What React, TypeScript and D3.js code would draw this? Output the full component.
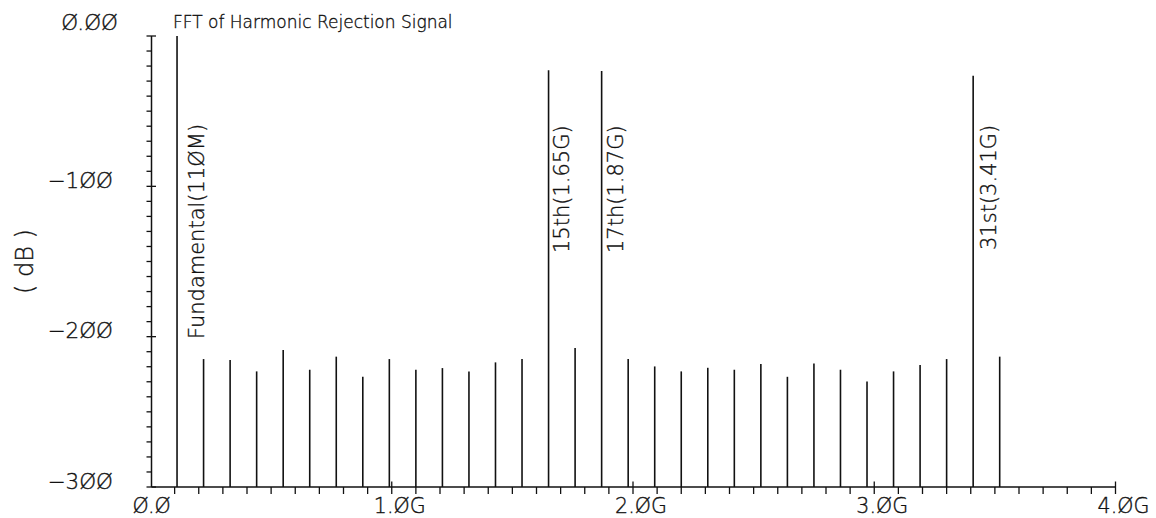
import React from "react";
import * as d3 from "d3";

// Harmonic frequencies (GHz) of the 110 MHz fundamental and their FFT magnitudes (dB)
const FREQS_GHZ = [
  0.11, 0.22, 0.33, 0.44, 0.55, 0.66, 0.77, 0.88, 0.99, 1.1, 1.21, 1.32, 1.43, 1.54, 1.65, 1.76,
  1.87, 1.98, 2.09, 2.2, 2.31, 2.42, 2.53, 2.64, 2.75, 2.86, 2.97, 3.08, 3.19, 3.3, 3.41, 3.52,
];
const MAG_DB = [
  0, -214.9, -215.6, -223.1, -208.9, -222, -213.3, -226.7, -214.9, -222, -220.9, -223.1, -217.1,
  -214.9, -22.7, -207.6, -23.3, -214.9, -219.8, -223.1, -220.7, -222, -218.2, -226.7, -217.8, -222,
  -229.8, -223.1, -218.9, -214.9, -26.4, -213.3,
];

// Annotated spectral lines
const ANNOTATION_TEXT = ["Fundamental(11ØM)", "15th(1.65G)", "17th(1.87G)", "31st(3.41G)"];
const ANNOTATION_FREQ = [0.11, 1.65, 1.87, 3.41];

// Axis ticks
const Y_MAJOR = [0, -100, -200, -300];
const Y_MAJOR_LABELS = ["Ø.ØØ", "−1ØØ", "−2ØØ", "−3ØØ"];
const X_MAJOR = [0, 1, 2, 3, 4];
const X_MAJOR_LABELS = ["Ø.Ø", "1.ØG", "2.ØG", "3.ØG", "4.ØG"];

const TITLE = "FFT of Harmonic Rejection Signal";
const Y_TITLE = "( dB )";

// Layout for the annotation text: horizontal offset from the line, and the y where text starts
const ANNOTATION_DX = [27, 20, 21, 23];
const ANNOTATION_START_Y = [339, 253, 253, 250];

const W = 1156;
const H = 518;
const INK = "#111";
const FONT = "'DejaVu Sans', sans-serif";
const TEXT_STROKE = 0.35;

export default function App() {
  const x = d3.scaleLinear().domain([0, 4]).range([150.5, 1115.5]);
  const y = d3.scaleLinear().domain([-300, 0]).range([487, 36]);
  const axisX = 151.5;
  const baseY = y(-300);

  const yMinor = d3.range(0, -301, -10).filter((v) => !Y_MAJOR.includes(v));
  const xMinor = d3.range(0, 40).map((i) => i / 10).filter((v) => Math.abs(v - Math.round(v)) > 1e-6);

  const textProps = { fill: INK, stroke: INK, strokeWidth: TEXT_STROKE };

  return (
    <svg
      width={W}
      height={H}
      style={{ position: "absolute", left: 0, top: 0, background: "#fff" }}
      fontFamily={FONT}
      fontWeight={200}
    >
      <rect width={W} height={H} fill="#fff" />

      {/* title */}
      <text x={173} y={28} fontSize={17} {...textProps}>
        {TITLE}
      </text>

      {/* y axis */}
      <line x1={axisX} x2={axisX} y1={y(0)} y2={baseY} stroke={INK} strokeWidth={1.5} />
      {yMinor.map((v) => (
        <line key={"ym" + v} x1={146.5} x2={axisX} y1={y(v)} y2={y(v)} stroke={INK} strokeWidth={1.3} />
      ))}
      {Y_MAJOR.map((v) => (
        <line key={"yM" + v} x1={146.5} x2={156} y1={y(v)} y2={y(v)} stroke={INK} strokeWidth={1.3} />
      ))}
      {Y_MAJOR.map((v, i) => (
        <text
          key={"yl" + v}
          x={v === 0 ? 118 : 113}
          y={y(v) + (v === 0 ? -6 : 1.5)}
          textAnchor="end"
          fontSize={21.5}
          {...textProps}
        >
          {Y_MAJOR_LABELS[i]}
        </text>
      ))}
      <text
        transform={`translate(33, ${(y(0) + baseY) / 2}) rotate(-90)`}
        textAnchor="middle"
        fontSize={24}
        xmlSpace="preserve"
        {...textProps}
      >
        {Y_TITLE}
      </text>

      {/* x axis */}
      <line x1={axisX} x2={x(4)} y1={baseY} y2={baseY} stroke={INK} strokeWidth={1.5} />
      {xMinor.map((v) => (
        <line key={"xm" + v} x1={x(v)} x2={x(v)} y1={baseY} y2={494} stroke={INK} strokeWidth={1.3} />
      ))}
      {X_MAJOR.filter((v) => v > 0).map((v) => (
        <line key={"xM" + v} x1={x(v)} x2={x(v)} y1={481.5} y2={494} stroke={INK} strokeWidth={1.3} />
      ))}
      {X_MAJOR.map((v, i) => (
        <text key={"xl" + v} x={x(v) - 0.87 * 20.6} y={513} fontSize={20.6} {...textProps}>
          {X_MAJOR_LABELS[i]}
        </text>
      ))}

      {/* spectral lines */}
      {FREQS_GHZ.map((f, i) => (
        <line
          key={"s" + i}
          x1={x(f)}
          x2={x(f)}
          y1={baseY}
          y2={y(MAG_DB[i])}
          stroke={INK}
          strokeWidth={1.6}
        />
      ))}

      {/* annotations */}
      {ANNOTATION_TEXT.map((t, i) => (
        <text
          key={"a" + i}
          transform={`translate(${x(ANNOTATION_FREQ[i]) + ANNOTATION_DX[i]}, ${ANNOTATION_START_Y[i]}) rotate(-90)`}
          fontSize={21}
          {...textProps}
        >
          {t}
        </text>
      ))}
    </svg>
  );
}
